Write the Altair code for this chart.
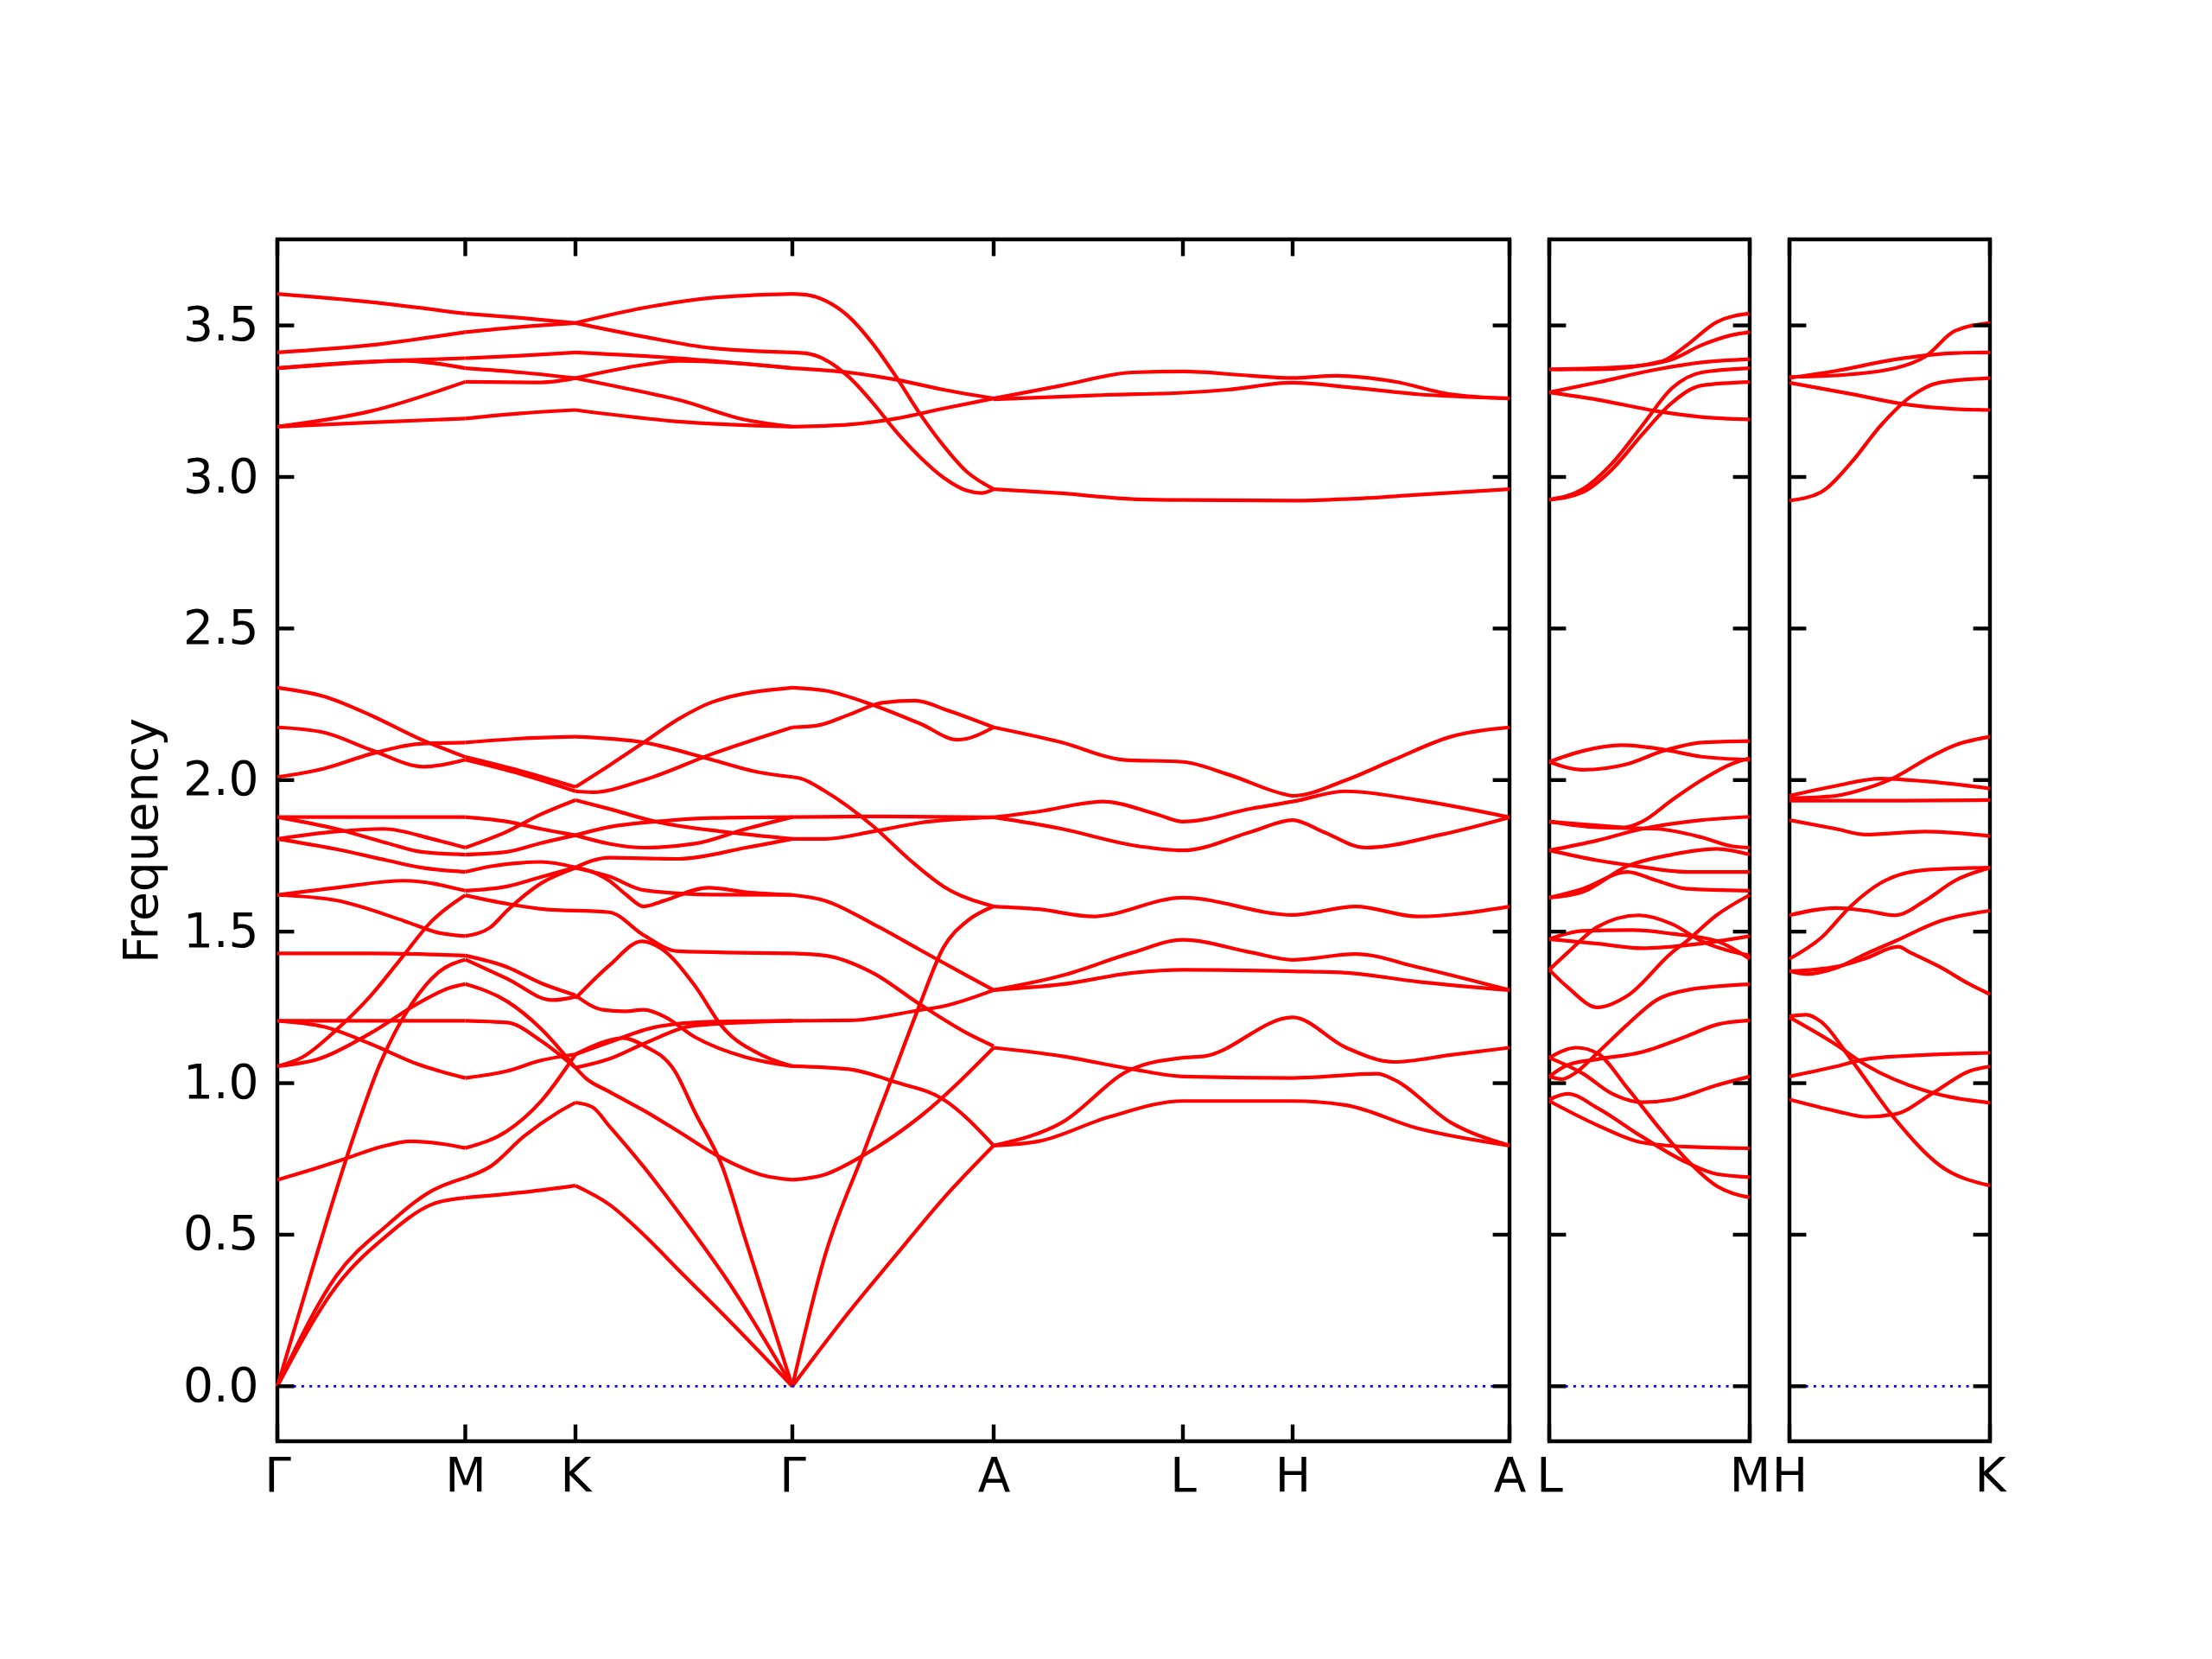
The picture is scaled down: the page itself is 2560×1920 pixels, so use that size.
import altair as alt
import pandas as pd

# ---------------- data (x = distance along path, f = frequency) ----------------
# main panel nodes: Γ  M  K  Γ  A  L  H  A
main_ticks = [0, 217.5, 345, 596, 829, 1048, 1175, 1426]
main_labels = ["Γ", "M", "K", "Γ", "A", "L", "H", "A"]
p2_ticks = [0, 232]
p2_labels = ["L", "M"]
p3_ticks = [0, 232]
p3_labels = ["H", "K"]
y_ticks = [0.0, 0.5, 1.0, 1.5, 2.0, 2.5, 3.0, 3.5]
y_domain = [-0.1815, 3.784]

seg_GM = [
    [(0, 0), (68, 0.329), (127.4, 0.499), (178.8, 0.60), (217.5, 0.622)],
    [(0, 0), (68, 0.363), (127.4, 0.532), (178.8, 0.645), (217.5, 0.688)],
    [(0, 0), (40.4, 0.386), (79.9, 0.752), (119.5, 1.068), (155, 1.259), (186.7, 1.366), (217.5, 1.408)],
    [(0, 0.681), (40, 0.715), (80, 0.752), (120, 0.79), (155, 0.808), (190, 0.80), (217.5, 0.786)],
    [(0, 1.056), (28.5, 1.085), (68, 1.175), (107.6, 1.287), (143.2, 1.411), (178.8, 1.535), (217.5, 1.620)],
    [(0, 1.056), (48, 1.08), (108, 1.165), (167, 1.27), (200, 1.315), (217.5, 1.327)],
    [(0, 1.206), (108, 1.206), (217.5, 1.206)],
    [(0, 1.206), (54, 1.186), (107.6, 1.13), (163, 1.062), (217.5, 1.017)],
    [(0, 1.428), (108, 1.428), (217.5, 1.421)],
    [(0, 1.621), (68, 1.645), (147, 1.668), (217.5, 1.635)],
    [(0, 1.621), (68, 1.603), (147, 1.535), (187, 1.496), (217.5, 1.485)],
    [(0, 1.806), (68, 1.830), (123, 1.839), (179, 1.806), (217.5, 1.777)],
    [(0, 1.806), (68, 1.772), (127, 1.735), (167, 1.711), (217.5, 1.697)],
    [(0, 1.878), (108, 1.878), (217.5, 1.878)],
    [(0, 1.878), (68, 1.839), (127, 1.792), (167, 1.763), (217.5, 1.754)],
    [(0, 2.010), (54, 2.038), (108, 2.086), (163, 2.119), (217.5, 2.124)],
    [(0, 2.174), (54, 2.157), (108, 2.10), (170, 2.044), (217.5, 2.067)],
    [(0, 2.305), (54, 2.276), (108, 2.214), (163, 2.138), (217.5, 2.076)],
    [(0, 3.604), (108, 3.577), (217.5, 3.539)],
    [(0, 3.411), (108, 3.435), (217.5, 3.478)],
    [(0, 3.359), (147, 3.385), (217.5, 3.392)],
    [(0, 3.359), (147, 3.383), (217.5, 3.359)],
    [(0, 3.166), (108, 3.217), (217.5, 3.314)],
    [(0, 3.166), (108, 3.18), (217.5, 3.193)],
]

seg_MK = [
    [(217.5, 0.622), (281.6, 0.639), (345, 0.662)],
    [(217.5, 0.688), (246, 0.724), (285.6, 0.825), (325, 0.904), (345, 0.936)],
    [(217.5, 0.786), (265.8, 0.842), (305, 0.94), (345, 1.095)],
    [(217.5, 1.017), (265.8, 1.04), (305, 1.075), (345, 1.095)],
    [(217.5, 1.206), (265.8, 1.20), (305, 1.14), (345, 1.051)],
    [(217.5, 1.327), (265.8, 1.27), (305, 1.18), (345, 1.051)],
    [(217.5, 1.408), (265.8, 1.345), (318, 1.274), (345, 1.285)],
    [(217.5, 1.421), (265.8, 1.383), (305, 1.33), (345, 1.29)],
    [(217.5, 1.485), (246, 1.513), (265.8, 1.569), (305, 1.659), (345, 1.710)],
    [(217.5, 1.620), (265.8, 1.592), (305, 1.575), (345, 1.569)],
    [(217.5, 1.635), (265.8, 1.649), (305, 1.68), (345, 1.712)],
    [(217.5, 1.697), (246, 1.715), (281.6, 1.727), (305, 1.73), (345, 1.712)],
    [(217.5, 1.754), (265.8, 1.763), (305, 1.792), (345, 1.818)],
    [(217.5, 1.878), (265.8, 1.863), (305, 1.839), (345, 1.818)],
    [(217.5, 1.777), (265.8, 1.83), (305, 1.887), (345, 1.934)],
    [(217.5, 2.076), (281.6, 2.03), (345, 1.977)],
    [(217.5, 2.067), (281.6, 2.02), (345, 1.963)],
    [(217.5, 2.124), (281.6, 2.137), (345, 2.143)],
    [(217.5, 3.539), (281.6, 3.525), (345, 3.508)],
    [(217.5, 3.478), (281.6, 3.495), (345, 3.508)],
    [(217.5, 3.392), (281.6, 3.400), (345, 3.411)],
    [(217.5, 3.359), (281.6, 3.345), (345, 3.326)],
    [(217.5, 3.314), (305, 3.312), (345, 3.326)],
    [(217.5, 3.193), (281.6, 3.21), (345, 3.221)],
]

seg_KG = [
    [(345, 0.662), (384, 0.60), (424, 0.50), (463.5, 0.386), (522.8, 0.217), (596, 0)],
    [(345, 0.936), (364.6, 0.921), (384, 0.859), (424, 0.724), (463.5, 0.577), (522.8, 0.341), (596, 0)],
    [(345, 1.095), (384, 1.141), (400, 1.149), (424, 1.124), (460, 1.04), (483.3, 0.904), (515, 0.724), (542.6, 0.476), (596, 0)],
    [(345, 1.051), (356.7, 1.017), (384, 0.972), (424, 0.91), (463.5, 0.842), (511, 0.758), (562, 0.696), (596, 0.681)],
    [(345, 1.28), (384.4, 1.389), (421.9, 1.468), (443.7, 1.445), (483.3, 1.321), (515, 1.186), (562.4, 1.09), (596, 1.056)],
    [(345, 1.29), (376.5, 1.242), (400, 1.237), (424, 1.242), (447.6, 1.22), (483.3, 1.152), (542.6, 1.085), (596, 1.056)],
    [(345, 1.095), (384, 1.135), (439, 1.186), (503, 1.203), (596, 1.206)],
    [(345, 1.051), (384, 1.08), (424, 1.13), (483, 1.19), (596, 1.206)],
    [(345, 1.569), (384, 1.564), (424, 1.488), (463.5, 1.435), (596, 1.428)],
    [(345, 1.712), (364.6, 1.697), (384, 1.668), (404, 1.621), (424, 1.583), (447.6, 1.602), (499, 1.645), (542.6, 1.63), (596, 1.621)],
    [(345, 1.71), (384, 1.682), (424, 1.637), (503, 1.622), (596, 1.621)],
    [(345, 1.712), (384, 1.744), (463.5, 1.74), (542.6, 1.777), (596, 1.806)],
    [(345, 1.818), (384, 1.845), (437.6, 1.863), (503, 1.875), (596, 1.878)],
    [(345, 1.818), (384, 1.79), (424, 1.777), (483, 1.79), (542.6, 1.839), (596, 1.878)],
    [(345, 1.934), (384, 1.905), (437.6, 1.863), (515, 1.83), (596, 1.806)],
    [(345, 1.963), (364.6, 1.96), (424, 2.0), (503, 2.086), (596, 2.174)],
    [(345, 1.977), (384, 2.048), (424, 2.124), (463.5, 2.20), (503, 2.257), (596, 2.305)],
    [(345, 2.143), (424, 2.124), (503, 2.067), (550, 2.03), (596, 2.010)],
    [(345, 3.508), (424, 3.463), (503, 3.425), (596, 3.411)],
    [(345, 3.508), (424, 3.558), (503, 3.591), (596, 3.604)],
    [(345, 3.411), (463.5, 3.392), (596, 3.359)],
    [(345, 3.326), (424, 3.28), (463.5, 3.255), (542.6, 3.188), (596, 3.166)],
    [(345, 3.326), (424, 3.37), (463.5, 3.383), (503, 3.38), (596, 3.359)],
    [(345, 3.221), (463.5, 3.183), (596, 3.166)],
]

seg_GA = [
    [(596, 0), (661, 0.243), (716, 0.433), (771, 0.62), (829, 0.794)],
    [(596, 0), (634, 0.433), (677.7, 0.766), (710.7, 1.013), (743.6, 1.26), (771, 1.448), (798.4, 1.535), (829, 1.583)],
    [(596, 0.681), (634, 0.699), (677.7, 0.761), (743.6, 0.889), (829, 1.117)],
    [(596, 1.056), (661, 1.046), (716, 1.003), (771, 0.946), (829, 0.794)],
    [(596, 1.206), (661, 1.207), (743.6, 1.241), (771, 1.254), (829, 1.307)],
    [(596, 1.428), (634, 1.421), (689, 1.364), (743.6, 1.26), (798, 1.165), (829, 1.122)],
    [(596, 1.621), (634, 1.602), (689, 1.526), (743.6, 1.44), (798, 1.355), (829, 1.307)],
    [(596, 1.806), (634, 1.806), (689, 1.83), (743.6, 1.859), (829, 1.877)],
    [(596, 1.878), (700, 1.88), (829, 1.877)],
    [(596, 2.010), (605, 2.006), (634, 1.963), (689, 1.849), (732.6, 1.735), (771, 1.649), (829, 1.583)],
    [(596, 2.305), (634, 2.295), (689, 2.248), (744, 2.186), (787.5, 2.133), (829, 2.174)],
    [(596, 2.174), (625, 2.18), (661, 2.215), (700, 2.255), (738, 2.262), (776.5, 2.229), (829, 2.174)],
    [(596, 3.604), (612, 3.601), (634, 3.582), (661, 3.53), (689, 3.44), (716, 3.331), (744, 3.207), (771, 3.103), (798, 3.017), (829, 2.96)],
    [(596, 3.411), (612, 3.408), (634, 3.387), (661, 3.331), (689, 3.245), (716, 3.15), (744, 3.065), (771, 2.998), (798, 2.955), (815, 2.947), (829, 2.96)],
    [(596, 3.359), (661, 3.345), (716, 3.321), (771, 3.288), (829, 3.259)],
    [(596, 3.166), (661, 3.173), (716, 3.193), (771, 3.226), (829, 3.259)],
]

seg_ALHA = [
    [(829, 2.174), (908, 2.124), (979, 2.067), (1048, 2.06), (1100, 2.019), (1166, 1.953), (1175, 1.948), (1237, 2.0), (1292, 2.067), (1358, 2.143), (1426, 2.174)],
    [(829, 1.877), (880.7, 1.896), (954.8, 1.929), (1017.8, 1.887), (1048, 1.863), (1127.5, 1.906), (1175, 1.929), (1237, 1.963), (1319.5, 1.934), (1426, 1.877)],
    [(829, 1.877), (908, 1.839), (990, 1.785), (1048, 1.768), (1127.5, 1.83), (1175, 1.868), (1209.8, 1.83), (1259, 1.777), (1347, 1.82), (1426, 1.877)],
    [(829, 1.583), (880.7, 1.574), (944, 1.55), (1048, 1.612), (1175, 1.555), (1248, 1.583), (1319.5, 1.55), (1426, 1.583)],
    [(829, 1.307), (908, 1.355), (990, 1.431), (1048, 1.473), (1127.5, 1.431), (1175, 1.407), (1248, 1.426), (1319.5, 1.383), (1426, 1.307)],
    [(829, 1.307), (908, 1.326), (990, 1.364), (1048, 1.374), (1175, 1.369), (1237, 1.364), (1319.5, 1.335), (1426, 1.307)],
    [(829, 1.117), (908, 1.089), (990, 1.046), (1048, 1.022), (1175, 1.017), (1273, 1.031), (1292, 1.012), (1358, 0.87), (1426, 0.794)],
    [(829, 0.794), (908, 0.87), (985, 1.041), (1048, 1.084), (1073, 1.089), (1175, 1.217), (1237, 1.117), (1292, 1.07), (1358, 1.093), (1426, 1.117)],
    [(829, 0.794), (880.7, 0.808), (963, 0.889), (1048, 0.941), (1175, 0.941), (1237, 0.927), (1319.5, 0.851), (1426, 0.794)],
    [(829, 3.259), (908, 3.302), (990, 3.345), (1048, 3.348), (1127.5, 3.334), (1175, 3.327), (1226, 3.334), (1292, 3.315), (1358, 3.273), (1426, 3.259)],
    [(829, 3.256), (963, 3.271), (1048, 3.278), (1100, 3.288), (1175, 3.311), (1237, 3.297), (1319.5, 3.273), (1426, 3.259)],
    [(829, 2.96), (908, 2.946), (990, 2.927), (1048, 2.924), (1175, 2.922), (1237, 2.927), (1319.5, 2.941), (1426, 2.96)],
]

seg_LM = [
    [(0, 3.355), (55.9, 3.355), (131.6, 3.383), (159.2, 3.435), (193.6, 3.511), (231.5, 3.539)],
    [(0, 3.355), (90.3, 3.364), (142, 3.388), (176.4, 3.435), (210.8, 3.468), (232, 3.478)],
    [(0, 3.279), (55.9, 3.312), (124.7, 3.355), (176.4, 3.378), (232, 3.389)],
    [(0, 3.279), (55.9, 3.255), (124.7, 3.217), (176.4, 3.198), (232, 3.190)],
    [(0, 2.925), (38.7, 2.96), (73, 3.046), (107.5, 3.169), (142, 3.293), (176.4, 3.345), (232, 3.359)],
    [(0, 2.925), (38.7, 2.95), (73, 3.026), (107.5, 3.14), (142, 3.245), (176.4, 3.302), (232, 3.313)],
    [(0, 2.06), (38.7, 2.096), (83.4, 2.115), (131.6, 2.101), (176.4, 2.077), (232, 2.067)],
    [(0, 2.06), (38.7, 2.034), (90.3, 2.053), (131.6, 2.096), (176.4, 2.124), (232, 2.129)],
    [(0, 1.863), (55.9, 1.85), (86.9, 1.844), (107.5, 1.863), (142, 1.934), (176.4, 2.0), (210.8, 2.053), (232, 2.072)],
    [(0, 1.863), (55.9, 1.844), (124.7, 1.839), (176.4, 1.811), (210.8, 1.782), (232, 1.777)],
    [(0, 1.768), (55.9, 1.801), (107.5, 1.839), (176.4, 1.868), (232, 1.879)],
    [(0, 1.768), (55.9, 1.735), (100.6, 1.716), (159.2, 1.697), (232, 1.697)],
    [(0, 1.612), (38.7, 1.631), (90.3, 1.716), (142, 1.754), (193.6, 1.773), (232, 1.754)],
    [(0, 1.612), (38.7, 1.641), (90.3, 1.697), (124.7, 1.668), (159.2, 1.641), (232, 1.635)],
    [(0, 1.475), (38.7, 1.502), (97, 1.505), (142, 1.493), (193.6, 1.469), (232, 1.41)],
    [(0, 1.475), (55.9, 1.46), (107.5, 1.445), (159.2, 1.455), (232, 1.485)],
    [(0, 1.374), (21.4, 1.316), (55.9, 1.25), (90.3, 1.288), (142, 1.431), (159.2, 1.469), (193.6, 1.554), (232, 1.621)],
    [(0, 1.374), (21.4, 1.431), (55.9, 1.516), (104, 1.554), (142, 1.525), (176.4, 1.469), (232, 1.421)],
    [(0, 1.022), (21.4, 1.06), (55.9, 1.079), (107.5, 1.103), (159.2, 1.155), (193.6, 1.193), (232, 1.207)],
    [(0, 1.022), (14.5, 1.013), (28.3, 1.03), (55.9, 1.10), (90.3, 1.193), (124.7, 1.275), (159.2, 1.307), (232, 1.326)],
    [(0, 1.084), (31.8, 1.117), (55.9, 1.098), (90.3, 0.984), (124.7, 0.861), (159.2, 0.747), (193.6, 0.661), (232, 0.623)],
    [(0, 1.084), (38.7, 1.032), (73, 0.965), (107.5, 0.937), (142, 0.946), (193.6, 0.993), (232, 1.022)],
    [(0, 0.946), (21.4, 0.965), (55.9, 0.918), (107.5, 0.823), (159.2, 0.738), (193.6, 0.70), (232, 0.690)],
    [(0, 0.941), (55.9, 0.861), (107.5, 0.804), (159.2, 0.79), (232, 0.785)],
]

seg_HK = [
    [(0, 3.33), (53.8, 3.335), (122.6, 3.359), (157, 3.397), (191.5, 3.482), (232, 3.508)],
    [(0, 3.327), (53.8, 3.35), (122.6, 3.388), (191.5, 3.409), (232, 3.411)],
    [(0, 3.311), (71, 3.274), (133, 3.24), (191.5, 3.224), (232, 3.221)],
    [(0, 2.922), (36.5, 2.95), (71, 3.046), (105.4, 3.169), (139.8, 3.264), (174.3, 3.312), (232, 3.326)],
    [(0, 1.948), (53.8, 1.981), (105.4, 2.005), (157, 1.996), (232, 1.972)],
    [(0, 1.940), (53.8, 1.948), (88.2, 1.972), (122.6, 2.01), (157, 2.067), (191.5, 2.115), (232, 2.143)],
    [(0, 1.932), (116, 1.932), (232, 1.934)],
    [(0, 1.868), (53.8, 1.839), (88.2, 1.82), (157, 1.83), (232, 1.815)],
    [(0, 1.554), (53.8, 1.578), (88.2, 1.569), (122.6, 1.554), (157, 1.602), (191.5, 1.668), (232, 1.711)],
    [(0, 1.41), (36.5, 1.479), (71, 1.584), (105.4, 1.66), (157, 1.703), (232, 1.711)],
    [(0, 1.37), (19.3, 1.36), (53.8, 1.38), (88.2, 1.426), (122.6, 1.469), (174.3, 1.535), (232, 1.569)],
    [(0, 1.369), (53.8, 1.384), (88.2, 1.412), (126, 1.45), (139.8, 1.431), (174.3, 1.383), (208.7, 1.326), (232, 1.293)],
    [(0, 1.221), (19.3, 1.226), (36.5, 1.203), (71, 1.079), (122.6, 0.88), (174.3, 0.728), (232, 0.662)],
    [(0, 1.217), (53.8, 1.127), (88.2, 1.06), (157, 0.975), (232, 0.935)],
    [(0, 1.022), (53.8, 1.055), (88.2, 1.079), (157, 1.093), (232, 1.100)],
    [(0, 0.946), (53.8, 0.908), (88.2, 0.889), (122.6, 0.898), (167, 0.969), (208.7, 1.04), (232, 1.055)],
]

# ---------------- build tables ----------------
def to_df(segments, prefix):
    rows = []
    for si, seg in enumerate(segments):
        for bi, curve in enumerate(seg):
            for x, f in curve:
                rows.append({"band": f"{prefix}{si}_{bi}", "x": x, "f": f})
    return pd.DataFrame(rows)


df_main = to_df([seg_GM, seg_MK, seg_KG, seg_GA, seg_ALHA], "m")
df_p2 = to_df([seg_LM], "l")
df_p3 = to_df([seg_HK], "h")

H = 1391
FONT = "DejaVu Sans"
TICK = 19.4
LW = 4.4


def panel(df, width_units, width_px, xticks, xlabels, show_y):
    xs = alt.Scale(domain=[0, width_units], nice=False, zero=False)
    ys = alt.Scale(domain=y_domain, nice=False, zero=False)
    label_expr = "[" + ",".join(f"'{l}'" for l in xlabels) + "][indexof([" + \
        ",".join(str(v) for v in xticks) + "], datum.value)]"
    xaxis = alt.Axis(values=xticks, labelExpr=label_expr, title=None, ticks=False,
                     domain=False, grid=False, labelFont=FONT, labelFontSize=55,
                     labelColor="black", labelPadding=14, labelFlush=False,
                     labelOverlap=False)
    if show_y:
        yaxis = alt.Axis(values=y_ticks, format=".1f", title="Frequency", ticks=False,
                         domain=False, grid=False, labelFont=FONT, labelFontSize=55,
                         labelColor="black", labelPadding=22, labelOverlap=False,
                         titleFont=FONT, titleFontSize=55, titleFontWeight="normal",
                         titleColor="black", titlePadding=18)
    else:
        yaxis = None

    X = lambda: alt.X("x:Q", scale=xs, axis=xaxis)
    Y = lambda: alt.Y("f:Q", scale=ys, axis=yaxis)

    lines = alt.Chart(df).mark_line(interpolate="monotone", color="#ff0000",
                                    strokeWidth=4.2).encode(
        x=X(), y=Y(), detail="band:N")
    zero_df = pd.DataFrame({"x": [0], "x2": [width_units], "f": [0.0]})
    zero = alt.Chart(zero_df).mark_rule(color="#0000ff", strokeWidth=2.6,
                                        strokeDash=[3, 6.3]).encode(
        x=X(), x2="x2:Q", y=Y())
    yt = pd.DataFrame({"f": y_ticks})
    yl = alt.Chart(yt).mark_rule(color="black", strokeWidth=LW).encode(
        y=Y(), x=alt.value(0), x2=alt.value(TICK))
    yr = alt.Chart(yt).mark_rule(color="black", strokeWidth=LW).encode(
        y=Y(), x=alt.value(width_px - TICK), x2=alt.value(width_px))
    xt = pd.DataFrame({"x": xticks})
    xb = alt.Chart(xt).mark_rule(color="black", strokeWidth=LW).encode(
        x=X(), y=alt.value(H - TICK), y2=alt.value(H))
    xtop = alt.Chart(xt).mark_rule(color="black", strokeWidth=LW).encode(
        x=X(), y=alt.value(0), y2=alt.value(TICK))
    return alt.layer(lines, zero, yl, yr, xb, xtop).properties(width=width_px, height=H)


main = panel(df_main, 1426, 1426, main_ticks, main_labels, True)
p2 = panel(df_p2, 232, 232, p2_ticks, p2_labels, False)
p3 = panel(df_p3, 232, 232, p3_ticks, p3_labels, False)

chart = alt.hconcat(main, p2, p3, spacing=46, bounds="flush").configure_view(
    stroke="black", strokeWidth=LW, fill="white"
).properties(
    padding={"left": 127, "top": 264, "right": 40, "bottom": 40},
    background="white",
)

chart.save("out.html", embed_options={"renderer": "svg", "actions": False})
